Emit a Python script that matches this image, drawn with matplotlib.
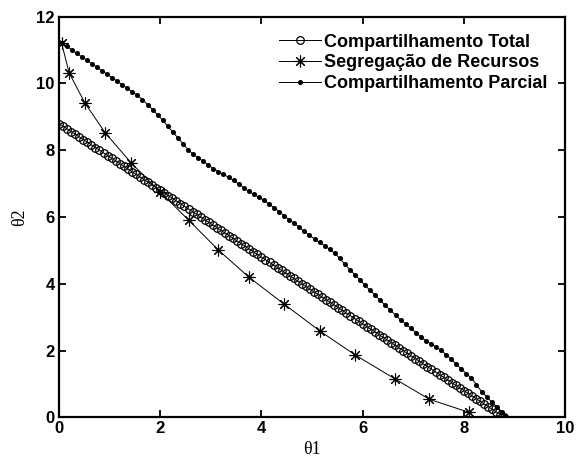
import matplotlib
matplotlib.use("Agg")
import matplotlib.pyplot as plt

# Compartilhamento Total (open circles, dense)
total_x = [
    0.00, 0.08, 0.16, 0.24, 0.32, 0.40, 0.48, 0.56, 0.64, 0.72,
    0.80, 0.88, 0.96, 1.04, 1.12, 1.20, 1.28, 1.36, 1.44, 1.52,
    1.60, 1.68, 1.76, 1.84, 1.92, 2.00, 2.08, 2.16, 2.24, 2.32,
    2.40, 2.48, 2.56, 2.64, 2.72, 2.80, 2.88, 2.96, 3.04, 3.12,
    3.20, 3.28, 3.36, 3.44, 3.52, 3.60, 3.68, 3.76, 3.84, 3.92,
    4.00, 4.08, 4.16, 4.24, 4.32, 4.40, 4.48, 4.56, 4.64, 4.72,
    4.80, 4.88, 4.96, 5.04, 5.12, 5.20, 5.28, 5.36, 5.44, 5.52,
    5.60, 5.68, 5.76, 5.84, 5.92, 6.00, 6.08, 6.16, 6.24, 6.32,
    6.40, 6.48, 6.56, 6.64, 6.72, 6.80, 6.88, 6.96, 7.04, 7.12,
    7.20, 7.28, 7.36, 7.44, 7.52, 7.60, 7.68, 7.76, 7.84, 7.92,
    8.00, 8.08, 8.16, 8.24, 8.32, 8.40, 8.48, 8.56, 8.64, 8.72,
    8.80,
]
total_y = [
    8.80, 8.72, 8.64, 8.56, 8.48, 8.40, 8.32, 8.24, 8.16, 8.08,
    8.00, 7.92, 7.84, 7.76, 7.68, 7.60, 7.52, 7.44, 7.36, 7.28,
    7.20, 7.12, 7.04, 6.96, 6.88, 6.80, 6.72, 6.64, 6.56, 6.48,
    6.40, 6.32, 6.24, 6.16, 6.08, 6.00, 5.92, 5.84, 5.76, 5.68,
    5.60, 5.52, 5.44, 5.36, 5.28, 5.20, 5.12, 5.04, 4.96, 4.88,
    4.80, 4.72, 4.64, 4.56, 4.48, 4.40, 4.32, 4.24, 4.16, 4.08,
    4.00, 3.92, 3.84, 3.76, 3.68, 3.60, 3.52, 3.44, 3.36, 3.28,
    3.20, 3.12, 3.04, 2.96, 2.88, 2.80, 2.72, 2.64, 2.56, 2.48,
    2.40, 2.32, 2.24, 2.16, 2.08, 2.00, 1.92, 1.84, 1.76, 1.68,
    1.60, 1.52, 1.44, 1.36, 1.28, 1.20, 1.12, 1.04, 0.96, 0.88,
    0.80, 0.72, 0.64, 0.56, 0.48, 0.40, 0.32, 0.24, 0.16, 0.08,
    0.00,
]

# Segregacao de Recursos (asterisks)
seg_x = [0.05, 0.20, 0.51, 0.91, 1.42, 2.00, 2.56, 3.15, 3.76, 4.45,
         5.16, 5.85, 6.64, 7.32, 8.10]
seg_y = [11.22, 10.32, 9.42, 8.53, 7.63, 6.75, 5.91, 5.01, 4.19, 3.39,
         2.58, 1.87, 1.15, 0.54, 0.15]

# Compartilhamento Parcial (small dots)
parc_x = [
    0.05, 0.15, 0.25, 0.35, 0.45, 0.55, 0.65, 0.75, 0.85, 0.95,
    1.05, 1.15, 1.25, 1.35, 1.45, 1.55, 1.65, 1.75, 1.85, 1.95,
    2.05, 2.15, 2.25, 2.35, 2.45, 2.55, 2.65, 2.75, 2.85, 2.95,
    3.05, 3.15, 3.25, 3.35, 3.45, 3.55, 3.65, 3.75, 3.85, 3.95,
    4.05, 4.15, 4.25, 4.35, 4.45, 4.55, 4.65, 4.75, 4.85, 4.95,
    5.05, 5.15, 5.25, 5.35, 5.45, 5.55, 5.65, 5.75, 5.85, 5.95,
    6.05, 6.15, 6.25, 6.35, 6.45, 6.55, 6.65, 6.75, 6.85, 6.95,
    7.05, 7.15, 7.25, 7.35, 7.45, 7.55, 7.65, 7.75, 7.85, 7.95,
    8.05, 8.15, 8.25, 8.35, 8.45, 8.55, 8.65, 8.75, 8.82,
]
parc_y = [
    11.22, 11.12, 11.01, 10.90, 10.80, 10.70, 10.59, 10.49, 10.38, 10.28,
    10.17, 10.07, 9.96, 9.85, 9.75, 9.64, 9.52, 9.37, 9.22, 9.06,
    8.90, 8.72, 8.54, 8.37, 8.19, 8.02, 7.88, 7.78, 7.67, 7.56,
    7.45, 7.36, 7.28, 7.19, 7.10, 6.99, 6.88, 6.77, 6.68, 6.59,
    6.50, 6.39, 6.28, 6.16, 6.04, 5.92, 5.81, 5.69, 5.57, 5.45,
    5.34, 5.24, 5.14, 5.03, 4.91, 4.76, 4.58, 4.42, 4.27, 4.11,
    3.95, 3.80, 3.65, 3.50, 3.35, 3.21, 3.06, 2.92, 2.80, 2.67,
    2.54, 2.41, 2.29, 2.20, 2.11, 2.01, 1.88, 1.74, 1.59, 1.45,
    1.31, 1.17, 0.98, 0.77, 0.62, 0.46, 0.32, 0.16, 0.03,
]

plt.rcParams["font.family"] = "Liberation Sans"
plt.rcParams["font.weight"] = "bold"
plt.rcParams["font.size"] = 12

fig = plt.figure(figsize=(5.76, 4.59), dpi=100)
ax = fig.add_axes([0.1024, 0.0908, 0.8786, 0.8728])

ax.plot(total_x, total_y, "-o", color="black", linewidth=0.7,
        markersize=5.5, markerfacecolor="none", markeredgewidth=0.9,
        label="Compartilhamento Total")
ax.plot(seg_x, seg_y, "-", marker=(8, 2, 0), color="black", linewidth=0.7,
        markersize=8.5, markeredgewidth=0.8,
        label="Segregação de Recursos")
ax.plot(parc_x, parc_y, "-o", color="black", linewidth=0.7,
        markersize=2.6, label="Compartilhamento Parcial")

ax.set_xlim(0, 10)
ax.set_ylim(0, 12)
ax.set_xticks([0, 2, 4, 6, 8, 10])
ax.set_yticks([0, 2, 4, 6, 8, 10, 12])
ax.tick_params(direction="in", top=True, right=True, length=5, width=1.3,
               labelsize=12, pad=3)
for s in ax.spines.values():
    s.set_linewidth(1.6)

ax.set_xlabel("θ1", family="Liberation Serif", fontweight="normal",
              fontsize=13, labelpad=3)
ax.set_ylabel("θ2", family="Liberation Serif", fontweight="normal",
              fontsize=13, labelpad=6)

ax.legend(loc="upper right", bbox_to_anchor=(0.991, 0.989), frameon=False,
          fontsize=13, handlelength=2.3, handletextpad=0.2,
          labelspacing=0.2, borderaxespad=0.3)

fig.savefig("out.png", dpi=100)
